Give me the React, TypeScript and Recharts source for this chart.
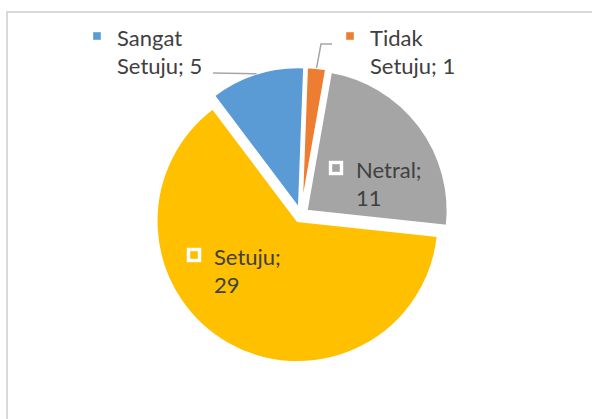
import React from 'react'
import { PieChart, Pie, Cell, Sector } from 'recharts'

const categories = ['Sangat Setuju', 'Tidak Setuju', 'Netral', 'Setuju']
const responses = [5, 1, 11, 29]
const sliceColors = ['#5B9BD5', '#ED7D31', '#A5A5A5', '#FFC000']

const data = categories.map((name, i) => ({ name, value: responses[i] }))

const RADIAN = Math.PI / 180
const EXPLODE = 7
const TEXT = '#404040'

// text start (first baseline) relative to the pie centre, plus optional leader bends
const labelLayout: Record<string, { dx: number; dy: number; leader?: [number, number][] }> = {
  'Sangat Setuju': { dx: -184, dy: -169, leader: [[-88, -142]] },
  'Tidak Setuju': { dx: 69, dy: -169, leader: [[20, -171], [31, -171]] },
  Netral: { dx: 55, dy: -37 },
  Setuju: { dx: -87, dy: 50 },
}

const ExplodedSlice = (props: any) => {
  const { cx, cy, midAngle } = props
  const dx = Math.cos(-midAngle * RADIAN) * EXPLODE
  const dy = Math.sin(-midAngle * RADIAN) * EXPLODE
  return <Sector {...props} cx={cx + dx} cy={cy + dy} />
}

const renderLabel = (props: any) => {
  const { cx, cy, midAngle, outerRadius, name, value, index } = props
  const layout = labelLayout[name]
  if (!layout) return null
  const ux = Math.cos(-midAngle * RADIAN)
  const uy = Math.sin(-midAngle * RADIAN)
  const ox = cx + ux * (outerRadius + EXPLODE)
  const oy = cy + uy * (outerRadius + EXPLODE)
  const tx = cx + layout.dx
  const ty = cy + layout.dy
  const [first, ...rest] = `${name}; ${value}`.split(' ')
  const leaderPts = layout.leader
    ? [[ox, oy], ...layout.leader.map(([a, b]) => [cx + a, cy + b])]
        .map((p) => p.join(','))
        .join(' ')
    : null
  return (
    <g>
      {leaderPts && (
        <polyline points={leaderPts} fill='none' stroke='#A6A6A6' strokeWidth={1.5} />
      )}
      <rect
        x={tx - 25.5}
        y={ty - 15.5}
        width={11}
        height={11}
        fill={sliceColors[index]}
        stroke='#fff'
        strokeWidth={3.4}
      />
      <text fill={TEXT} fontSize={22} fontFamily='Lato, "Open Sans", sans-serif'>
        <tspan x={tx} y={ty}>
          {first}
        </tspan>
        <tspan x={tx} y={ty + 28}>
          {rest.join(' ')}
        </tspan>
      </text>
    </g>
  )
}

export default function App() {
  const pieProps: any = {
    shape: ExplodedSlice,
    inactiveShape: ExplodedSlice,
    activeShape: ExplodedSlice,
  }
  return (
    <div
      style={{
        position: 'absolute',
        left: 0,
        top: 0,
        width: 592,
        height: 419,
        overflow: 'hidden',
        background: '#fff',
      }}>
      <div
        style={{
          position: 'absolute',
          left: 6,
          top: 11,
          width: 620,
          height: 440,
          border: '2px solid #D9D9D9',
        }}
      />
      <div style={{ position: 'absolute', left: 0, top: 0 }}>
        <PieChart width={592} height={419} margin={{ top: 0, right: 0, bottom: 0, left: 0 }}>
          <Pie
            data={data}
            dataKey='value'
            nameKey='name'
            cx={301}
            cy={215}
            outerRadius={141}
            startAngle={127}
            endAngle={-233}
            stroke='#fff'
            strokeWidth={2}
            {...pieProps}
            label={renderLabel}
            labelLine={false}
            isAnimationActive={false}>
            {data.map((d, i) => (
              <Cell key={d.name} fill={sliceColors[i]} />
            ))}
          </Pie>
        </PieChart>
      </div>
    </div>
  )
}
